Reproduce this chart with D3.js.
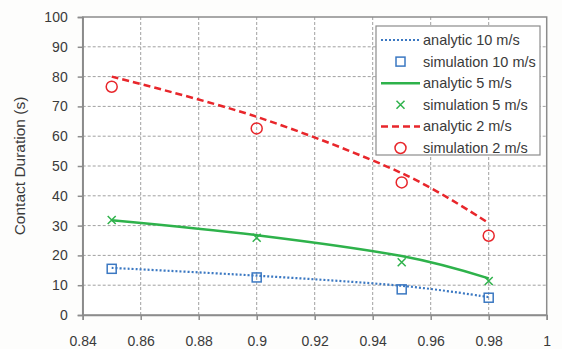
<!DOCTYPE html>
<html>
<head>
<meta charset="utf-8">
<script src="https://cdn.jsdelivr.net/npm/d3@7"></script>
<style>
  html, body { margin: 0; padding: 0; background: #fdfdfc; }
  svg { display: block; font-family: "Liberation Sans", Arial, sans-serif; }
</style>
</head>
<body>
<svg id="chart" width="562" height="349"></svg>
<script>
// Contact duration versus x for three impact speeds
const xValues = [0.85, 0.9, 0.95, 0.98];
const analytic10 = [15.8, 13.2, 9.8, 6.0];
const simulation10 = [15.5, 12.6, 8.6, 5.8];
const analytic5 = [31.8, 26.8, 19.8, 12.3];
const simulation5 = [31.9, 25.9, 17.7, 11.4];
const analytic2 = [80.0, 66.5, 47.6, 30.8];
const simulation2 = [76.6, 62.6, 44.5, 26.6];
const xTicks = [0.84, 0.86, 0.88, 0.9, 0.92, 0.94, 0.96, 0.98, 1];
const yTicks = [0, 10, 20, 30, 40, 50, 60, 70, 80, 90, 100];
const legendLabels = ["analytic 10 m/s", "simulation 10 m/s", "analytic 5 m/s",
                      "simulation 5 m/s", "analytic 2 m/s", "simulation 2 m/s"];

const BLUE = "#3b78c2", GREEN = "#2eb24b", RED = "#e8262b";
const GRID = "#a0a0a0", AXIS = "#8c8c8c", TEXT = "#3a3a3a";

const svg = d3.select("#chart");
const plotLeft = 82.7, plotRight = 546.7, plotTop = 17, plotBottom = 315;

const x = d3.scaleLinear().domain([0.84, 1]).range([plotLeft, plotRight]);
const y = d3.scaleLinear().domain([0, 100]).range([plotBottom, plotTop]);

svg.append("rect").attr("x", plotLeft).attr("y", plotTop)
  .attr("width", plotRight - plotLeft).attr("height", plotBottom - plotTop).attr("fill", "#ffffff");

// dashed grid
const grid = svg.append("g");
grid.selectAll("line.gx").data(xTicks.slice(1, -1)).join("line")
  .attr("x1", d => x(d)).attr("x2", d => x(d)).attr("y1", plotTop).attr("y2", plotBottom)
  .attr("stroke", GRID).attr("stroke-width", 1).attr("stroke-dasharray", "3,2");
grid.selectAll("line.gy").data(yTicks.slice(1, -1)).join("line")
  .attr("y1", d => y(d)).attr("y2", d => y(d)).attr("x1", plotLeft).attr("x2", plotRight)
  .attr("stroke", GRID).attr("stroke-width", 1).attr("stroke-dasharray", "3,2");

// frame
svg.append("rect").attr("x", plotLeft).attr("y", plotTop)
  .attr("width", plotRight - plotLeft).attr("height", plotBottom - plotTop)
  .attr("fill", "none").attr("stroke", AXIS).attr("stroke-width", 1.5);

// axes
const xAxis = svg.append("g").attr("transform", `translate(0,${plotBottom})`)
  .call(d3.axisBottom(x).tickValues(xTicks).tickSize(5).tickPadding(16)
    .tickFormat(d => String(+d.toFixed(2))));
const yAxis = svg.append("g").attr("transform", `translate(${plotLeft},0)`)
  .call(d3.axisLeft(y).tickValues(yTicks).tickSize(5).tickPadding(10));
[xAxis, yAxis].forEach(a => {
  a.select(".domain").attr("stroke", AXIS).attr("stroke-width", 1.5);
  a.selectAll(".tick line").attr("stroke", AXIS).attr("stroke-width", 1.5);
  a.selectAll(".tick text").attr("fill", TEXT).style("font-size", "14px")
    .style("font-family", "'Liberation Sans', Arial, sans-serif");
});

svg.append("text")
  .attr("transform", `translate(25,${(plotTop + plotBottom) / 2}) rotate(-90)`)
  .attr("text-anchor", "middle").attr("fill", TEXT)
  .style("font-size", "15.5px").text("Contact Duration (s)");

// analytic curves
const line = d3.line().x(d => x(d[0])).y(d => y(d[1])).curve(d3.curveCatmullRom.alpha(0));
const zip = vals => xValues.map((v, i) => [v, vals[i]]);
const plot = svg.append("g");
plot.append("path").attr("d", line(zip(analytic10))).attr("fill", "none")
  .attr("stroke", BLUE).attr("stroke-width", 2.2).attr("stroke-dasharray", "2,2");
plot.append("path").attr("d", line(zip(analytic5))).attr("fill", "none")
  .attr("stroke", GREEN).attr("stroke-width", 2.5);
plot.append("path").attr("d", line(zip(analytic2))).attr("fill", "none")
  .attr("stroke", RED).attr("stroke-width", 2.5).attr("stroke-dasharray", "7,4");

// simulation markers
function square(g, cx, cy) {
  g.append("rect").attr("x", cx - 4.5).attr("y", cy - 4.5).attr("width", 9).attr("height", 9)
    .attr("fill", "none").attr("stroke", BLUE).attr("stroke-width", 1.5);
}
function cross(g, cx, cy) {
  g.append("path").attr("d", `M${cx - 4},${cy - 4}L${cx + 4},${cy + 4}M${cx - 4},${cy + 4}L${cx + 4},${cy - 4}`)
    .attr("stroke", GREEN).attr("stroke-width", 1.5);
}
function circle(g, cx, cy) {
  g.append("circle").attr("cx", cx).attr("cy", cy).attr("r", 5.5)
    .attr("fill", "none").attr("stroke", RED).attr("stroke-width", 1.5);
}
xValues.forEach((v, i) => {
  square(plot, x(v), y(simulation10[i]));
  cross(plot, x(v), y(simulation5[i]));
  circle(plot, x(v), y(simulation2[i]));
});

// legend
const lg = svg.append("g");
lg.append("rect").attr("x", 376).attr("y", 26).attr("width", 164).attr("height", 129)
  .attr("fill", "#ffffff").attr("stroke", AXIS).attr("stroke-width", 1.2);
const rowY = i => 40 + i * 21.6;
const sx1 = 381, sx2 = 420, smid = 400.5;
lg.append("line").attr("x1", sx1).attr("x2", sx2).attr("y1", rowY(0)).attr("y2", rowY(0))
  .attr("stroke", BLUE).attr("stroke-width", 2.2).attr("stroke-dasharray", "2,2");
square(lg, smid, rowY(1));
lg.append("line").attr("x1", sx1).attr("x2", sx2).attr("y1", rowY(2)).attr("y2", rowY(2))
  .attr("stroke", GREEN).attr("stroke-width", 2.5);
cross(lg, smid, rowY(3));
lg.append("line").attr("x1", sx1).attr("x2", sx2).attr("y1", rowY(4)).attr("y2", rowY(4))
  .attr("stroke", RED).attr("stroke-width", 2.5).attr("stroke-dasharray", "7,4");
circle(lg, smid, rowY(5));
lg.selectAll("text").data(legendLabels).join("text")
  .attr("x", 423).attr("y", (d, i) => rowY(i)).attr("dy", "0.35em")
  .attr("fill", TEXT).style("font-size", "14.5px").text(d => d);
</script>
</body>
</html>
